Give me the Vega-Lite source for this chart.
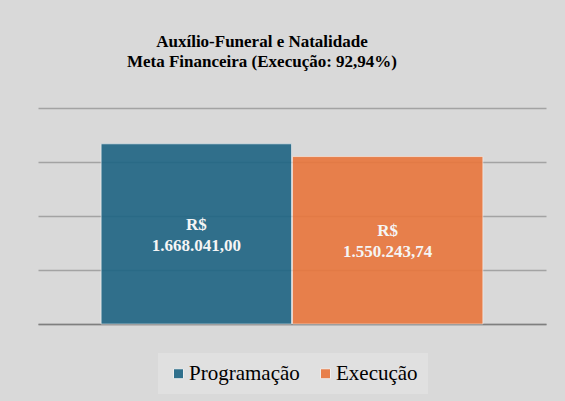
{
  "$schema": "https://vega.github.io/schema/vega-lite/v6.json",
  "width": 508,
  "height": 216,
  "autosize": {"type": "none"},
  "padding": {"left": 38, "top": 108, "right": 19, "bottom": 77},
  "background": "#d9d9d9",
  "title": {
    "text": ["Auxílio-Funeral e Natalidade", "Meta Financeira (Execução: 92,94%)"],
    "lineHeight": 20,
    "anchor": "middle",
    "dx": -30,
    "offset": 37
  },
  "data": {
    "values": [
      {"categoria": "Programação", "valor": 1668041.00, "rotulo": "R$\n1.668.041,00"},
      {"categoria": "Execução", "valor": 1550243.74, "rotulo": "R$\n1.550.243,74"}
    ]
  },
  "encoding": {
    "x": {
      "field": "categoria",
      "type": "nominal",
      "sort": ["Programação", "Execução"],
      "scale": {"paddingInner": 0.005, "paddingOuter": 0.33},
      "axis": {"labels": false, "ticks": false, "title": null, "domain": true, "domainColor": "#7f7f7f", "domainWidth": 1.5, "grid": false}
    }
  },
  "layer": [
    {
      "mark": {"type": "bar", "opacity": 0.9, "stroke": "#ffffff", "strokeOpacity": 0.55, "strokeWidth": 1},
      "encoding": {
        "y": {
          "field": "valor",
          "type": "quantitative",
          "scale": {"domain": [0, 2000000]},
          "axis": {"labels": false, "ticks": false, "domain": false, "title": null, "grid": true, "gridColor": "#a3a3a3", "gridWidth": 1.5, "tickCount": 4}
        },
        "color": {
          "field": "categoria",
          "type": "nominal",
          "sort": ["Programação", "Execução"],
          "scale": {"domain": ["Programação", "Execução"], "range": ["#1E6483", "#E9763C"]},
          "legend": {
            "title": null,
            "orient": "none",
            "legendX": 120,
            "legendY": 245,
            "direction": "horizontal",
            "padding": 10,
            "fillColor": "#e0e0e0",
            "symbolType": "square",
            "symbolSize": 100,
            "symbolStrokeColor": "#f0f0f0",
            "symbolStrokeWidth": 1,
            "symbolOpacity": 0.9,
            "labelFontSize": 21,
            "labelColor": "#000000",
            "labelOffset": 0,
            "columnPadding": 15,
            "labelLimit": 300
          }
        }
      }
    },
    {
      "transform": [{"calculate": "datum.valor / 2", "as": "meio"}],
      "mark": {"type": "text", "fontSize": 17, "fontWeight": "bold", "color": "#f5f5f5", "lineBreak": "\n", "lineHeight": 21, "baseline": "middle", "align": "center", "dy": -9},
      "encoding": {
        "y": {"field": "meio", "type": "quantitative", "scale": {"domain": [0, 2000000]}},
        "text": {"field": "rotulo"}
      }
    }
  ],
  "config": {
    "font": "Liberation Serif",
    "view": {"stroke": null},
    "title": {"font": "Liberation Serif", "fontSize": 17, "fontWeight": "bold", "color": "#000000"},
    "legend": {"labelFont": "Liberation Serif"},
    "text": {"font": "Liberation Serif"}
  }
}
